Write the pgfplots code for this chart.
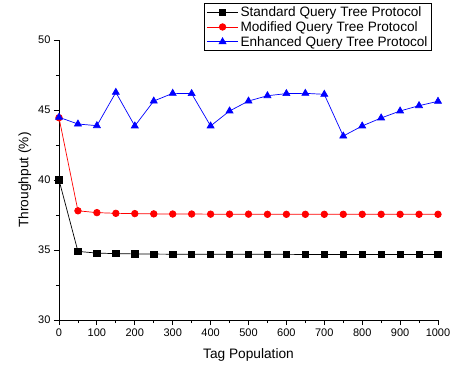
\documentclass[border=0pt]{standalone}
\usepackage{fontspec}
\setmainfont{Liberation Sans}
\usepackage{pgfplots}
\pgfplotsset{compat=1.18}
\begin{document}
\begin{tikzpicture}
\path[use as bounding box] (-59pt,-50pt) rectangle (394pt,320pt);
\begin{axis}[
  scale only axis,
  width=379pt, height=280pt,
  xmin=0, xmax=1000, ymin=30, ymax=50,
  axis x line*=bottom, axis y line*=left,
  axis line style={black, line width=0.8pt},
  xtick={0,100,...,1000}, minor xtick={50,150,...,950},
  ytick={30,35,40,45,50}, minor ytick={32.5,37.5,42.5,47.5},
  tick align=outside,
  major tick length=5pt, minor tick length=3pt,
  tick style={black, line width=0.8pt},
  every tick label/.append style={font=\fontsize{11}{13}\selectfont},
  /pgf/number format/assume math mode=true,
  /pgf/number format/set thousands separator={},
  xlabel={Tag Population}, ylabel={Throughput (\%)},
  label style={font=\fontsize{13.7}{16}\selectfont},
  xlabel style={at={(axis description cs:0.5,-0.125)}, anchor=center},
  ylabel style={at={(axis description cs:-0.09,0.5)}, anchor=center},
  legend style={at={(rel axis cs:0.984,1.132)}, anchor=north east,
    draw=black, line width=0.8pt, font=\fontsize{13.6}{16}\selectfont,
    row sep=-0.5pt, inner xsep=2pt, inner ysep=1pt},
  legend cell align=left,
  legend image code/.code={\draw[mark repeat=2,mark phase=2] plot coordinates {(0cm,0cm) (0.55cm,0cm) (1.1cm,0cm)};},
  clip=false,
]
\addplot[black, line width=0.7pt, mark=square*, mark size=3.2pt] coordinates {
(0,40) (50,34.9) (100,34.78) (150,34.74) (200,34.72) (250,34.71) (300,34.7) (350,34.7) (400,34.69) (450,34.69) (500,34.69) (550,34.69) (600,34.69) (650,34.68) (700,34.68) (750,34.68) (800,34.68) (850,34.68) (900,34.68) (950,34.68) (1000,34.68)};
\addlegendentry{Standard Query Tree Protocol}
\addplot[red, line width=0.7pt, mark=*, mark size=3.3pt] coordinates {
(0,44.45) (50,37.8) (100,37.67) (150,37.62) (200,37.6) (250,37.58) (300,37.57) (350,37.57) (400,37.56) (450,37.56) (500,37.56) (550,37.55) (600,37.55) (650,37.55) (700,37.55) (750,37.55) (800,37.55) (850,37.55) (900,37.55) (950,37.55) (1000,37.55)};
\addlegendentry{Modified Query Tree Protocol}
\addplot[blue, line width=0.7pt, mark=triangle*, mark size=4pt] coordinates {
(0,44.48) (50,44.0) (100,43.88) (150,46.26) (200,43.86) (250,45.64) (300,46.19) (350,46.17) (400,43.86) (450,44.93) (500,45.64) (550,46.02) (600,46.17) (650,46.19) (700,46.12) (750,43.14) (800,43.86) (850,44.43) (900,44.93) (950,45.31) (1000,45.62)};
\addlegendentry{Enhanced Query Tree Protocol}
\end{axis}
\end{tikzpicture}
\end{document}
